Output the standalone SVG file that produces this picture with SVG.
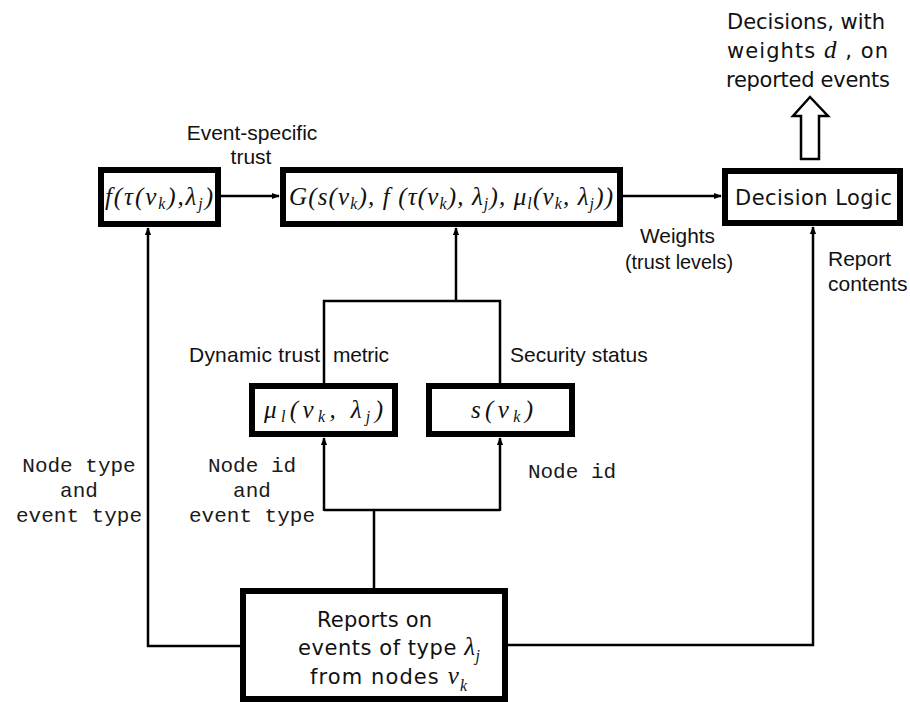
<svg xmlns="http://www.w3.org/2000/svg" width="910" height="702" viewBox="0 0 910 702">
  <defs>
    <marker id="arrow" viewBox="0 0 10 10" refX="9" refY="5" markerWidth="8" markerHeight="8" markerUnits="userSpaceOnUse" orient="auto">
      <path d="M0,1 L10,5 L0,9 Z" fill="#000"/>
    </marker>
  </defs>
  <style>
    .box { fill: #fff; stroke: #000; stroke-width: 6; }
    .wire { fill: none; stroke: #000; stroke-width: 2.5; }
    .lbl { font-family: "Liberation Sans", Arial, sans-serif; font-size: 21px; fill: #111; }
    .wide { font-family: "DejaVu Sans", "Liberation Sans", sans-serif; font-size: 21px; fill: #111; }
    .mono { font-family: "Liberation Mono", "Courier New", monospace; font-size: 21px; fill: #1a1a1a; }
    .math { font-family: "Liberation Serif", "Times New Roman", serif; font-style: italic; font-size: 25px; fill: #111; }
    .sub { font-size: 16px; }
  </style>
  <rect width="910" height="702" fill="#fff"/>

  <!-- connectors -->
  <g id="connectors">
    <line class="wire" x1="221" y1="196" x2="279" y2="196" marker-end="url(#arrow)"/>
    <line class="wire" x1="623" y1="196" x2="721" y2="196" marker-end="url(#arrow)"/>
    <line class="wire" x1="456" y1="301" x2="456" y2="228" marker-end="url(#arrow)"/>
    <path class="wire" d="M324,383 V301 H500 V383"/>
    <path class="wire" d="M374,588 V510 M324,510 H500"/>
    <line class="wire" x1="324" y1="511" x2="324" y2="438" marker-end="url(#arrow)"/>
    <line class="wire" x1="500" y1="511" x2="500" y2="438" marker-end="url(#arrow)"/>
    <path class="wire" d="M240,646 H148 V228" marker-end="url(#arrow)"/>
    <path class="wire" d="M508,645 H813 V227" marker-end="url(#arrow)"/>
    <!-- hollow output arrow -->
    <polygon points="801,159 801,116 793,116 810,97 828,116 819,116 819,159" fill="#fff" stroke="#000" stroke-width="2.5"/>
  </g>

  <!-- nodes -->
  <g id="node-f">
    <rect class="box" x="101" y="170" width="117" height="54"/>
    <text class="math" x="105" y="205" textLength="108" lengthAdjust="spacing">f(τ(ν<tspan class="sub" dy="4">k</tspan><tspan dy="-4">),</tspan>λ<tspan class="sub" dy="4">j</tspan><tspan dy="-4">)</tspan></text>
  </g>
  <g id="node-g">
    <rect class="box" x="283" y="170" width="337" height="54"/>
    <text class="math" x="289" y="205" textLength="324" lengthAdjust="spacing">G(s(ν<tspan class="sub" dy="4">k</tspan><tspan dy="-4">), f (τ(ν</tspan><tspan class="sub" dy="4">k</tspan><tspan dy="-4">), λ</tspan><tspan class="sub" dy="4">j</tspan><tspan dy="-4">), μ</tspan><tspan class="sub" dy="4">l</tspan><tspan dy="-4">(ν</tspan><tspan class="sub" dy="4">k</tspan><tspan dy="-4">, λ</tspan><tspan class="sub" dy="4">j</tspan><tspan dy="-4">))</tspan></text>
  </g>
  <g id="node-decision">
    <rect class="box" x="725" y="171" width="175" height="52"/>
    <text class="wide" x="735" y="205" textLength="157" lengthAdjust="spacing">Decision Logic</text>
  </g>
  <g id="node-mu">
    <rect class="box" x="252" y="386" width="143" height="48"/>
    <text class="math" x="264" y="418" font-size="27" textLength="119" lengthAdjust="spacing">μ<tspan class="sub" font-size="17" dy="4">l</tspan><tspan dy="-4">(ν</tspan><tspan class="sub" font-size="17" dy="4">k</tspan><tspan dy="-4">, λ</tspan><tspan class="sub" font-size="17" dy="4">j</tspan><tspan dy="-4">)</tspan></text>
  </g>
  <g id="node-s">
    <rect class="box" x="429" y="386" width="143" height="48"/>
    <text class="math" x="471" y="418" font-size="27" textLength="62" lengthAdjust="spacing">s(ν<tspan class="sub" font-size="17" dy="4">k</tspan><tspan dy="-4">)</tspan></text>
  </g>
  <g id="node-reports">
    <rect class="box" x="243" y="591" width="262" height="108"/>
    <text class="wide" x="317" y="627" textLength="115" lengthAdjust="spacing">Reports on</text>
    <text class="wide" x="298" y="655" textLength="182" lengthAdjust="spacing">events of type <tspan class="math">λ<tspan class="sub" font-size="19" dy="6">j</tspan></tspan></text>
    <text class="wide" x="310" y="684" textLength="157" lengthAdjust="spacing">from nodes <tspan class="math">ν<tspan class="sub" font-size="19" dy="7">k</tspan></tspan></text>
  </g>

  <!-- labels -->
  <g id="labels">
    <text class="wide" x="727" y="29" textLength="158" lengthAdjust="spacing">Decisions, with</text>
    <text class="wide" x="727" y="58" textLength="161" lengthAdjust="spacing">weights  <tspan class="math">d</tspan> , on</text>
    <text class="wide" x="726" y="87" textLength="164" lengthAdjust="spacing">reported events</text>
    <text class="lbl" x="252" y="140" text-anchor="middle">Event-specific</text>
    <text class="lbl" x="251" y="164" text-anchor="middle">trust</text>
    <text class="lbl" x="640" y="243" textLength="75" lengthAdjust="spacingAndGlyphs">Weights</text>
    <text class="lbl" x="625" y="269" textLength="108" lengthAdjust="spacingAndGlyphs">(trust levels)</text>
    <text class="lbl" x="828" y="266">Report</text>
    <text class="lbl" x="828" y="291">contents</text>
    <text class="lbl" x="189" y="362" textLength="131" lengthAdjust="spacing">Dynamic trust</text>
    <text class="lbl" x="333" y="362" textLength="56" lengthAdjust="spacing">metric</text>
    <text class="lbl" x="510" y="362">Security status</text>
    <text class="mono" x="79" y="472" text-anchor="middle">Node type</text>
    <text class="mono" x="79" y="497" text-anchor="middle">and</text>
    <text class="mono" x="79" y="522" text-anchor="middle">event type</text>
    <text class="mono" x="252" y="472" text-anchor="middle">Node id</text>
    <text class="mono" x="252" y="497" text-anchor="middle">and</text>
    <text class="mono" x="252" y="522" text-anchor="middle">event type</text>
    <text class="mono" x="572" y="478" text-anchor="middle">Node id</text>
  </g>
</svg>
